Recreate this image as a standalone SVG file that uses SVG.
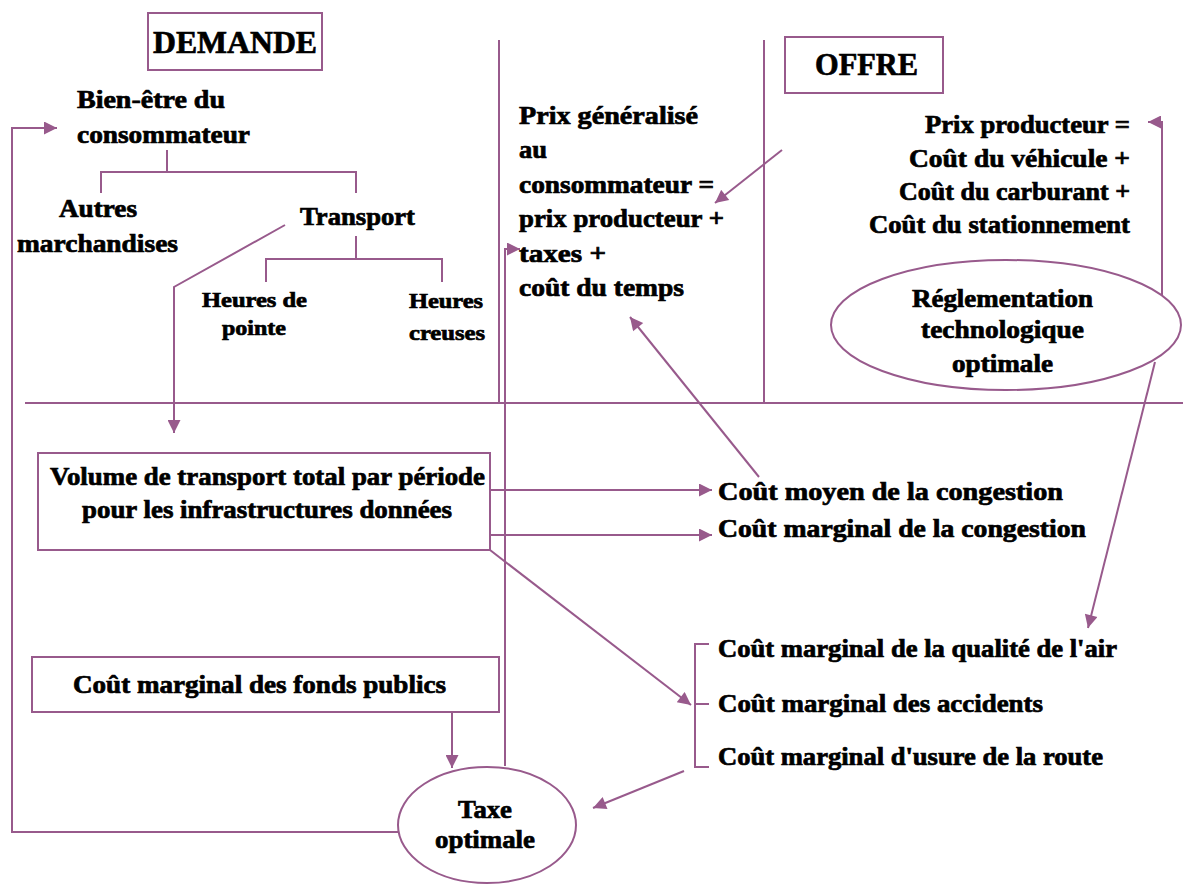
<svg xmlns="http://www.w3.org/2000/svg" width="1183" height="884" viewBox="0 0 1183 884">
<style>
.ln{stroke:#985a8c;stroke-width:2;fill:none}
.bx{stroke:#985a8c;stroke-width:2;fill:#fff}
.t{font-family:"Liberation Serif","Times New Roman",serif;font-weight:bold;font-size:25px;fill:#000;stroke:#000;stroke-width:0.7}
.s{font-size:21px}
.h{font-size:32px}
</style>
<defs>
<marker id="ah" viewBox="0 0 10 10" refX="10" refY="5" markerWidth="15" markerHeight="13" markerUnits="userSpaceOnUse" orient="auto">
<path d="M0,0 L10,5 L0,10 z" fill="#985a8c"/>
</marker>
</defs>
<rect width="1183" height="884" fill="#fff"/>
<g id="dividers">
<line class="ln" x1="499" y1="40" x2="499" y2="403"/>
<line class="ln" x1="764" y1="40" x2="764" y2="403"/>
<line class="ln" x1="25" y1="403" x2="1183" y2="403"/>
</g>
<g id="connectors">
<polyline class="ln" points="398,832 12,832 12,128 57,128" marker-end="url(#ah)"/>
<polyline class="ln" points="505,766 505,249 520,249" marker-end="url(#ah)"/>
<line class="ln" x1="452" y1="712" x2="452" y2="768" marker-end="url(#ah)"/>
<line class="ln" x1="684" y1="771" x2="593" y2="808" marker-end="url(#ah)"/>
<line class="ln" x1="490" y1="490" x2="712" y2="490" marker-end="url(#ah)"/>
<line class="ln" x1="490" y1="535" x2="712" y2="535" marker-end="url(#ah)"/>
<line class="ln" x1="490" y1="550" x2="691" y2="705" marker-end="url(#ah)"/>
<line class="ln" x1="759" y1="477" x2="630" y2="317" marker-end="url(#ah)"/>
<polyline class="ln" points="285,225 174,287 174,433" marker-end="url(#ah)"/>
<polyline class="ln" points="1162,295 1162,122 1148,122" marker-end="url(#ah)"/>
<line class="ln" x1="1155" y1="362" x2="1088" y2="628" marker-end="url(#ah)"/>
<line class="ln" x1="782" y1="150" x2="715" y2="203" marker-end="url(#ah)"/>
<polyline class="ln" points="167,150 167,172"/>
<polyline class="ln" points="101,193 101,172 356,172 356,193"/>
<polyline class="ln" points="356,236 356,259"/>
<polyline class="ln" points="266,282 266,259 442,259 442,282"/>
<polyline class="ln" points="709,644 695,644 695,767 709,767"/>
<line class="ln" x1="695" y1="704" x2="709" y2="704"/>
</g>
<g id="demande">
<rect class="bx" x="148" y="13" width="174" height="57"/>
<text class="t h" x="153" y="53" textLength="164" lengthAdjust="spacingAndGlyphs">DEMANDE</text>
</g>
<g id="offre">
<rect class="bx" x="785" y="37" width="158" height="56"/>
<text class="t h" x="815" y="75" textLength="103" lengthAdjust="spacingAndGlyphs">OFFRE</text>
</g>
<g id="bien-etre">
<text class="t" x="77" y="108" textLength="148" lengthAdjust="spacingAndGlyphs">Bien-être du</text>
<text class="t" x="77" y="143" textLength="173" lengthAdjust="spacingAndGlyphs">consommateur</text>
</g>
<g id="autres">
<text class="t" x="59" y="217" textLength="78" lengthAdjust="spacingAndGlyphs">Autres</text>
<text class="t" x="17" y="252" textLength="161" lengthAdjust="spacingAndGlyphs">marchandises</text>
</g>
<g id="transport">
<text class="t" x="300" y="225" textLength="115" lengthAdjust="spacingAndGlyphs">Transport</text>
</g>
<g id="pointe">
<text class="t s" x="202" y="307" textLength="105" lengthAdjust="spacingAndGlyphs">Heures de</text>
<text class="t s" x="222" y="335" textLength="64" lengthAdjust="spacingAndGlyphs">pointe</text>
</g>
<g id="creuses">
<text class="t s" x="409" y="308" textLength="74" lengthAdjust="spacingAndGlyphs">Heures</text>
<text class="t s" x="409" y="340" textLength="76" lengthAdjust="spacingAndGlyphs">creuses</text>
</g>
<g id="prix-generalise">
<text class="t" x="519" y="124" textLength="179" lengthAdjust="spacingAndGlyphs">Prix généralisé</text>
<text class="t" x="519" y="158" textLength="28" lengthAdjust="spacingAndGlyphs">au</text>
<text class="t" x="519" y="193" textLength="195" lengthAdjust="spacingAndGlyphs">consommateur =</text>
<text class="t" x="519" y="227" textLength="205" lengthAdjust="spacingAndGlyphs">prix producteur +</text>
<text class="t" x="519" y="262" textLength="87" lengthAdjust="spacingAndGlyphs">taxes +</text>
<text class="t" x="519" y="296" textLength="165" lengthAdjust="spacingAndGlyphs">coût du temps</text>
</g>
<g id="prix-producteur">
<text class="t" x="925" y="133" textLength="205" lengthAdjust="spacingAndGlyphs">Prix producteur =</text>
<text class="t" x="909" y="167" textLength="221" lengthAdjust="spacingAndGlyphs">Coût du véhicule +</text>
<text class="t" x="899" y="200" textLength="231" lengthAdjust="spacingAndGlyphs">Coût du carburant +</text>
<text class="t" x="869" y="233" textLength="261" lengthAdjust="spacingAndGlyphs">Coût du stationnement</text>
</g>
<g id="reglementation">
<ellipse class="bx" cx="1006" cy="325" rx="175" ry="65"/>
<text class="t" x="912" y="307" textLength="181" lengthAdjust="spacingAndGlyphs">Réglementation</text>
<text class="t" x="921" y="338" textLength="163" lengthAdjust="spacingAndGlyphs">technologique</text>
<text class="t" x="952" y="372" textLength="101" lengthAdjust="spacingAndGlyphs">optimale</text>
</g>
<g id="volume">
<rect class="bx" x="38" y="453" width="452" height="97"/>
<text class="t" x="50" y="485" textLength="435" lengthAdjust="spacingAndGlyphs">Volume de transport total par période</text>
<text class="t" x="82" y="518" textLength="370" lengthAdjust="spacingAndGlyphs">pour les infrastructures données</text>
</g>
<g id="cout-moyen">
<text class="t" x="718" y="500" textLength="345" lengthAdjust="spacingAndGlyphs">Coût moyen de la congestion</text>
</g>
<g id="cout-marginal-congestion">
<text class="t" x="718" y="537" textLength="368" lengthAdjust="spacingAndGlyphs">Coût marginal de la congestion</text>
</g>
<g id="couts-externes">
<text class="t" x="718" y="657" textLength="399" lengthAdjust="spacingAndGlyphs">Coût marginal de la qualité de l'air</text>
<text class="t" x="718" y="712" textLength="325" lengthAdjust="spacingAndGlyphs">Coût marginal des accidents</text>
<text class="t" x="718" y="765" textLength="385" lengthAdjust="spacingAndGlyphs">Coût marginal d'usure de la route</text>
</g>
<g id="fonds-publics">
<rect class="bx" x="32" y="657" width="467" height="55"/>
<text class="t" x="73" y="693" textLength="373" lengthAdjust="spacingAndGlyphs">Coût marginal des fonds publics</text>
</g>
<g id="taxe">
<ellipse class="bx" cx="487" cy="825" rx="89" ry="58"/>
<text class="t" x="458" y="818" textLength="54" lengthAdjust="spacingAndGlyphs">Taxe</text>
<text class="t" x="435" y="848" textLength="100" lengthAdjust="spacingAndGlyphs">optimale</text>
</g>
</svg>
